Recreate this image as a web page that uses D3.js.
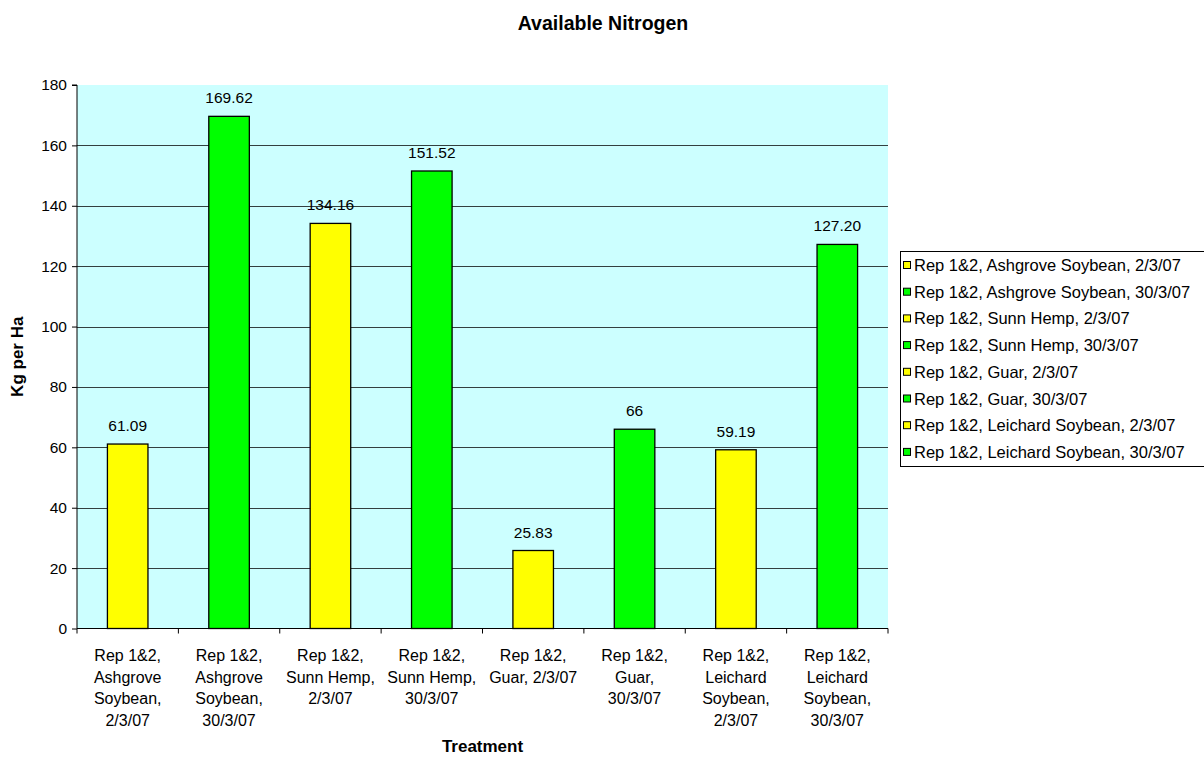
<!DOCTYPE html>
<html>
<head>
<meta charset="utf-8">
<script src="https://cdn.jsdelivr.net/npm/d3@7"></script>
<style>
  html, body { margin: 0; padding: 0; background: #ffffff; }
  svg { display: block; font-family: "Liberation Sans", Arial, sans-serif; }
</style>
</head>
<body>
<svg id="chart" width="1204" height="757"></svg>
<script>
// Available nitrogen per treatment (kg per ha)
const categories = [
  "Rep 1&2, Ashgrove Soybean, 2/3/07",
  "Rep 1&2, Ashgrove Soybean, 30/3/07",
  "Rep 1&2, Sunn Hemp, 2/3/07",
  "Rep 1&2, Sunn Hemp, 30/3/07",
  "Rep 1&2, Guar, 2/3/07",
  "Rep 1&2, Guar, 30/3/07",
  "Rep 1&2, Leichard Soybean, 2/3/07",
  "Rep 1&2, Leichard Soybean, 30/3/07"
];
// Axis labels wrap the same way the category text breaks under each bar
const categoryLines = [
  ["Rep 1&2,", "Ashgrove", "Soybean,", "2/3/07"],
  ["Rep 1&2,", "Ashgrove", "Soybean,", "30/3/07"],
  ["Rep 1&2,", "Sunn Hemp,", "2/3/07"],
  ["Rep 1&2,", "Sunn Hemp,", "30/3/07"],
  ["Rep 1&2,", "Guar, 2/3/07"],
  ["Rep 1&2,", "Guar,", "30/3/07"],
  ["Rep 1&2,", "Leichard", "Soybean,", "2/3/07"],
  ["Rep 1&2,", "Leichard", "Soybean,", "30/3/07"]
];
const values = [61.09, 169.62, 134.16, 151.52, 25.83, 66, 59.19, 127.20];
const valueLabels = ["61.09", "169.62", "134.16", "151.52", "25.83", "66", "59.19", "127.20"];
const sampleDates = ["2/3/07", "30/3/07", "2/3/07", "30/3/07", "2/3/07", "30/3/07", "2/3/07", "30/3/07"];
const yTicks = [0, 20, 40, 60, 80, 100, 120, 140, 160, 180];

const dateColor = { "2/3/07": "#FFFF00", "30/3/07": "#00FF00" };

const svg = d3.select("#chart");
const plot = { left: 77, right: 888, top: 85, bottom: 628.5 };

const x = d3.scaleBand().domain(categories).range([plot.left, plot.right]).paddingInner(0).paddingOuter(0);
const y = d3.scaleLinear().domain([0, 180]).range([plot.bottom, plot.top]);

// Plot background
svg.append("rect")
  .attr("x", plot.left).attr("y", plot.top)
  .attr("width", plot.right - plot.left).attr("height", plot.bottom - plot.top)
  .attr("fill", "#CCFFFF");

// Horizontal gridlines
svg.append("g")
  .selectAll("line")
  .data(yTicks.filter(t => t > 0 && t < 180))
  .join("line")
  .attr("x1", plot.left).attr("x2", plot.right)
  .attr("y1", d => Math.round(y(d)) + 0.5).attr("y2", d => Math.round(y(d)) + 0.5)
  .attr("stroke", "#000").attr("stroke-width", 1).attr("opacity", 0.75);

// Bars
const barW = x.bandwidth() * 0.4;
svg.append("g")
  .selectAll("rect")
  .data(categories)
  .join("rect")
  .attr("x", (d) => x(d) + (x.bandwidth() - barW) / 2)
  .attr("y", (d, i) => y(values[i]))
  .attr("width", barW)
  .attr("height", (d, i) => y(0) - y(values[i]))
  .attr("fill", (d, i) => dateColor[sampleDates[i]])
  .attr("stroke", "#000").attr("stroke-width", 1.3);

// Value labels
svg.append("g")
  .selectAll("text")
  .data(categories)
  .join("text")
  .attr("x", d => x(d) + x.bandwidth() / 2)
  .attr("y", (d, i) => y(values[i]) - 13)
  .attr("text-anchor", "middle")
  .attr("font-size", 15.5)
  .attr("fill", "#000")
  .text((d, i) => valueLabels[i]);

// Y axis
const yAxis = svg.append("g")
  .attr("transform", `translate(${plot.left},0)`)
  .call(d3.axisLeft(y).tickValues(yTicks).tickSize(5).tickPadding(5).tickFormat(d3.format("d")));
yAxis.selectAll("text").attr("font-size", 15.5).attr("fill", "#000").attr("font-family", "Liberation Sans, Arial, sans-serif");
yAxis.selectAll("line").attr("stroke", "#000");
yAxis.select(".domain").attr("stroke", "#000").attr("d", `M-5,${y(180)}H0V${y(0)}`);

// X axis: ticks at category boundaries
const xAxis = svg.append("g");
xAxis.append("line")
  .attr("x1", plot.left).attr("x2", plot.right)
  .attr("y1", plot.bottom).attr("y2", plot.bottom)
  .attr("stroke", "#000");
xAxis.selectAll("line.tick")
  .data(categories.map(c => x(c)).concat([plot.right]))
  .join("line")
  .attr("class", "tick")
  .attr("x1", d => d).attr("x2", d => d)
  .attr("y1", plot.bottom).attr("y2", plot.bottom + 5)
  .attr("stroke", "#000");

const catText = svg.append("g")
  .selectAll("text")
  .data(categories)
  .join("text")
  .attr("text-anchor", "middle")
  .attr("font-size", 16)
  .attr("fill", "#000");
catText.each(function (d, i) {
  d3.select(this).selectAll("tspan")
    .data(categoryLines[i])
    .join("tspan")
    .attr("x", x(d) + x.bandwidth() / 2)
    .attr("y", (l, j) => 661 + j * 21.7)
    .text(l => l);
});

// Titles
svg.append("text")
  .attr("x", 603).attr("y", 30)
  .attr("text-anchor", "middle")
  .attr("font-size", 19.5).attr("font-weight", "bold")
  .text("Available Nitrogen");

svg.append("text")
  .attr("transform", `translate(23,${(plot.top + plot.bottom) / 2}) rotate(-90)`)
  .attr("text-anchor", "middle")
  .attr("font-size", 17).attr("font-weight", "bold")
  .text("Kg per Ha");

svg.append("text")
  .attr("x", (plot.left + plot.right) / 2).attr("y", 752)
  .attr("text-anchor", "middle")
  .attr("font-size", 17).attr("font-weight", "bold")
  .text("Treatment");

// Legend
const legend = svg.append("g");
legend.append("rect")
  .attr("x", 900.5).attr("y", 251.5)
  .attr("width", 304).attr("height", 215)
  .attr("fill", "#fff").attr("stroke", "#000");
const items = legend.selectAll("g.item")
  .data(categories)
  .join("g")
  .attr("class", "item")
  .attr("transform", (d, i) => `translate(0,${265 + i * 26.7})`);
items.append("rect")
  .attr("x", 903.5).attr("y", -3.5)
  .attr("width", 7).attr("height", 7)
  .attr("fill", (d, i) => dateColor[sampleDates[i]])
  .attr("stroke", "#000");
items.append("text")
  .attr("x", 914).attr("y", 6)
  .attr("font-size", 16.5)
  .text(d => d);
</script>
</body>
</html>
